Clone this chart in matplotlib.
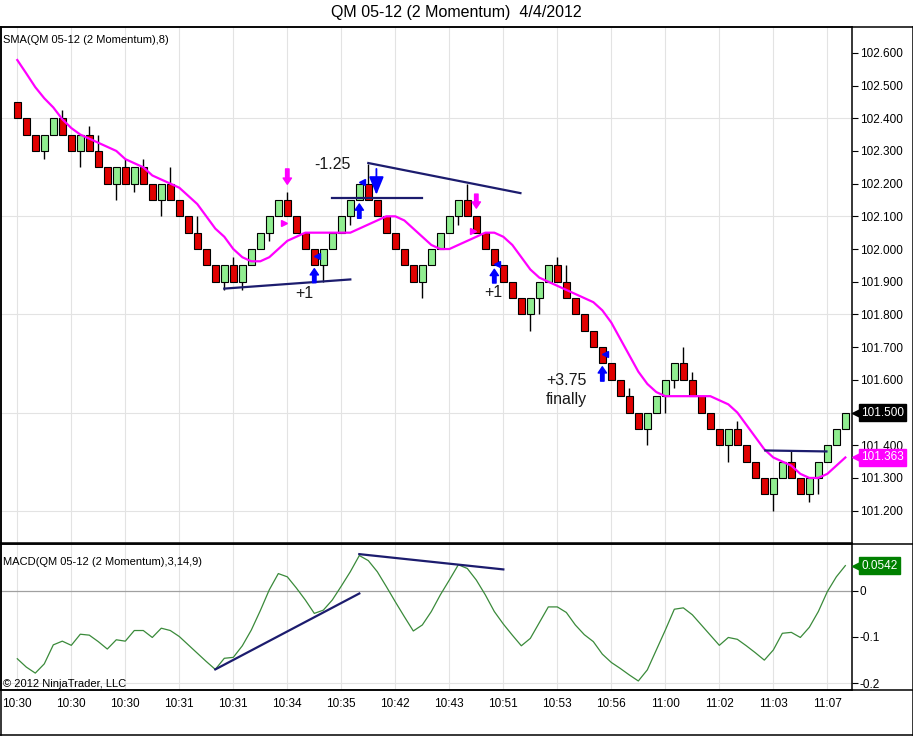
import matplotlib
matplotlib.use('Agg')
import matplotlib.pyplot as plt
import matplotlib.transforms as mtransforms
from matplotlib.lines import Line2D
import numpy as np

plt.rcParams['font.family'] = ['Liberation Sans', 'DejaVu Sans']

# --- data --------------------------------------------------------------------
first_open = 102.45
closes = [102.40, 102.35, 102.30, 102.35, 102.40, 102.35, 102.30, 102.35, 102.30, 102.25,
          102.20, 102.25, 102.20, 102.25, 102.20, 102.15, 102.20, 102.15, 102.10, 102.05,
          102.00, 101.95, 101.90, 101.95, 101.90, 101.95, 102.00, 102.05, 102.10, 102.15,
          102.10, 102.05, 102.00, 101.95, 102.00, 102.05, 102.10, 102.15, 102.20, 102.15,
          102.10, 102.05, 102.00, 101.95, 101.90, 101.95, 102.00, 102.05, 102.10, 102.15,
          102.10, 102.05, 102.00, 101.95, 101.90, 101.85, 101.80, 101.85, 101.90, 101.95,
          101.90, 101.85, 101.80, 101.75, 101.70, 101.65, 101.60, 101.55, 101.50, 101.45,
          101.50, 101.55, 101.60, 101.65, 101.60, 101.55, 101.50, 101.45, 101.40, 101.45,
          101.40, 101.35, 101.30, 101.25, 101.30, 101.35, 101.30, 101.25, 101.30, 101.35,
          101.40, 101.45, 101.50]

# wick ends that stick out of the body (bar index -> price)
upper_wicks = {5: 102.425, 8: 102.375, 9: 102.35, 12: 102.275, 14: 102.275, 17: 102.25,
               20: 102.10, 24: 101.975, 30: 102.175, 39: 102.26, 50: 102.20, 60: 101.975,
               61: 101.95, 68: 101.575, 74: 101.70, 75: 101.625, 80: 101.475, 86: 101.385}
lower_wicks = {3: 102.275, 7: 102.25, 11: 102.15, 13: 102.175, 16: 102.10, 23: 101.875,
               25: 101.875, 28: 102.025, 34: 101.90, 37: 102.075, 45: 101.85, 49: 102.075,
               57: 101.75, 58: 101.80, 70: 101.40, 72: 101.50, 73: 101.575, 79: 101.35,
               84: 101.20, 88: 101.225, 89: 101.25}

sma = [102.578, 102.537, 102.495, 102.461, 102.433, 102.397, 102.370, 102.35, 102.3375, 102.325,
       102.3125, 102.30, 102.275, 102.2625, 102.25, 102.225, 102.2125, 102.20, 102.1875, 102.1625,
       102.1375, 102.10, 102.0625, 102.0375, 102.00, 101.975, 101.9625, 101.9625, 101.975, 102.00,
       102.025, 102.0375, 102.05, 102.05, 102.05, 102.05, 102.05, 102.05, 102.0625, 102.075,
       102.0875, 102.10, 102.10, 102.0875, 102.0625, 102.0375, 102.0125, 102.00, 102.00, 102.0125,
       102.025, 102.0375, 102.05, 102.05, 102.0375, 102.0125, 101.975, 101.9375, 101.9125, 101.90,
       101.8875, 101.875, 101.8625, 101.85, 101.8375, 101.8125, 101.775, 101.725, 101.675, 101.625,
       101.5875, 101.5625, 101.55, 101.55, 101.55, 101.55, 101.55, 101.55, 101.5375, 101.525,
       101.50, 101.4625, 101.425, 101.3875, 101.3625, 101.35, 101.3375, 101.3125, 101.30, 101.30,
       101.3125, 101.3375, 101.3625]

macd = [-0.147, -0.165, -0.178, -0.158, -0.117, -0.109, -0.118, -0.094, -0.096, -0.110,
        -0.126, -0.106, -0.109, -0.086, -0.086, -0.101, -0.081, -0.086, -0.099, -0.117,
        -0.135, -0.153, -0.170, -0.146, -0.144, -0.119, -0.085, -0.043, 0.002, 0.037,
        0.030, 0.006, -0.020, -0.049, -0.042, -0.020, 0.010, 0.041, 0.076, 0.065,
        0.041, 0.009, -0.024, -0.056, -0.087, -0.074, -0.045, -0.009, 0.023, 0.056,
        0.048, 0.023, -0.009, -0.045, -0.072, -0.096, -0.119, -0.103, -0.069, -0.035,
        -0.035, -0.047, -0.074, -0.095, -0.110, -0.137, -0.155, -0.168, -0.182, -0.195,
        -0.171, -0.128, -0.085, -0.040, -0.037, -0.052, -0.074, -0.096, -0.118, -0.101,
        -0.105, -0.119, -0.134, -0.150, -0.128, -0.092, -0.090, -0.101, -0.079, -0.045,
        -0.002, 0.030, 0.0542]

time_labels = ['10:30', '10:30', '10:30', '10:31', '10:31', '10:34', '10:35', '10:42',
               '10:43', '10:51', '10:53', '10:56', '11:00', '11:02', '11:03', '11:07']
time_label_bars = [0, 6, 12, 18, 24, 30, 36, 42, 48, 54, 60, 66, 72, 78, 84, 90]

price_ticks = [101.2, 101.3, 101.4, 101.5, 101.6, 101.7, 101.8, 101.9,
               102.0, 102.1, 102.2, 102.3, 102.4, 102.5, 102.6]
price_grid = [101.2, 101.5, 101.8, 102.1, 102.4]
macd_ticks = [-0.2, -0.1, 0.0]
macd_tick_labels = ['-0.2', '-0.1', '0']

# last-value flags as printed on the axis
flag_texts = ['101.500', '101.363', '0.0542']

# hand-drawn trend lines: (bar, price) -> (bar, price)
price_lines = [((23, 101.879), (37, 101.907)),
               ((39, 102.263), (55.9, 102.171)),
               ((35, 102.156), (45, 102.156)),
               ((83.1, 101.384), (89.9, 101.381))]
macd_lines = [((22, -0.170), (38, -0.006)),
              ((38, 0.079), (54, 0.046))]

# trade markers: (bar, tail price, tip price, colour)
arrows = [(30, 102.245, 102.198, '#ff00ff'),
          (51, 102.168, 102.125, '#ff00ff'),
          (33, 101.897, 101.940, '#0000ff'),
          (38, 102.094, 102.138, '#0000ff'),
          (53, 101.896, 101.938, '#0000ff'),
          (65, 101.596, 101.640, '#0000ff')]
right_marks = [(29.65, 102.080), (50.6, 102.056)]
left_marks = [(33.35, 101.978), (38.35, 102.205), (53.35, 101.955), (65.35, 101.680)]

notes = [(35.0, 102.258, '-1.25'), (31.9, 101.864, '+1'), (52.9, 101.868, '+1'),
         (61.0, 101.597, '+3.75'), (61.0, 101.539, 'finally')]

# --- figure -----------------------------------------------------------------
W, H = 913, 736
fig = plt.figure(figsize=(W / 100, H / 100), dpi=100)
fig.patch.set_facecolor('white')


def fx(px):
    return px / W


def fy(py):
    return 1 - py / H


ax = fig.add_axes([fx(1), fy(543), fx(852) - fx(1), fy(27) - fy(543)])
ax2 = fig.add_axes([fx(1), fy(690), fx(852) - fx(1), fy(544) - fy(690)], sharex=ax)

n = len(closes)
idx = np.arange(n)
opens = np.array([first_open] + closes[:-1])
cl = np.array(closes)
highs = np.array([upper_wicks.get(i, max(opens[i], cl[i])) for i in range(n)])
lows = np.array([lower_wicks.get(i, min(opens[i], cl[i])) for i in range(n)])
up = cl > opens
colors = np.where(up, '#90ee90', '#e00000')

for a in (ax, ax2):
    for b in time_label_bars:
        a.axvline(b, color='#e3e3e3', lw=0.8, zorder=0)

for g in price_grid:
    ax.axhline(g, color='#e3e3e3', lw=0.8, zorder=0)

ax.vlines(idx, lows, highs, color='black', lw=1.0, zorder=2)
ax.bar(idx, cl - opens, bottom=opens, width=0.78, color=colors,
       edgecolor='black', linewidth=0.8, zorder=3)
ax.plot(idx, sma, color='#ff00ff', lw=1.6, zorder=4)

for (x0, y0), (x1, y1) in price_lines:
    ax.plot([x0, x1], [y0, y1], color='#1c1c6e', lw=1.6, zorder=5)

for b, tail, tip, c in arrows:
    ax.annotate('', xy=(b, tip), xytext=(b, tail),
                arrowprops=dict(arrowstyle='simple,head_width=0.6,head_length=0.45,tail_width=0.25',
                                color=c, shrinkA=0, shrinkB=0, mutation_scale=10), zorder=6)
# big sell arrow
ax.annotate('', xy=(39.9, 102.166), xytext=(39.9, 102.245),
            arrowprops=dict(arrowstyle='-|>,head_width=0.45,head_length=1.1', color='#0000ff',
                            lw=1.3, shrinkA=0, shrinkB=0, mutation_scale=10), zorder=6)
for b, p in right_marks:
    ax.plot(b, p, marker='>', color='#ff00ff', markersize=5, zorder=6)
for b, p in left_marks:
    ax.plot(b, p, marker='<', color='#0000ff', markersize=5, zorder=6)

for b, p, t in notes:
    ax.text(b, p, t, fontsize=11.5, ha='center', va='center', color='#1a1a1a', zorder=7)

ax.set_xlim(-1.81, 92.74)
ax.set_ylim(101.101, 102.679)
ax.yaxis.tick_right()
ax.set_yticks(price_ticks)
ax.set_yticklabels(['%.3f' % t for t in price_ticks])
ax.tick_params(axis='y', direction='out', length=4, width=0.8, labelsize=8.5, pad=1.5)
ax.tick_params(axis='x', length=0, labelbottom=False)

# MACD panel
ax2.axhline(0, color='#a0a0a0', lw=0.9, zorder=1)
ax2.axhline(-0.2, color='#e3e3e3', lw=0.8, zorder=0)
ax2.plot(idx, macd, color='#3a8a3a', lw=0.9, zorder=3)
for (x0, y0), (x1, y1) in macd_lines:
    ax2.plot([x0, x1], [y0, y1], color='#1c1c6e', lw=1.6, zorder=5)
ax2.set_ylim(-0.2145, 0.1009)
ax2.yaxis.tick_right()
ax2.set_yticks(macd_ticks)
ax2.set_yticklabels(macd_tick_labels)
ax2.tick_params(axis='y', direction='out', length=4, width=0.8, labelsize=8.5, pad=1.5)
ax2.set_xticks(time_label_bars)
ax2.set_xticklabels(time_labels)
ax2.tick_params(axis='x', length=0, labelsize=8.5, pad=6)

for a in (ax, ax2):
    for s in a.spines.values():
        s.set_linewidth(1.1)
        s.set_color('black')

# outer frame lines stretching to the right edge
for yy in (27, 543.5, 690, 735):
    fig.add_artist(Line2D([0, 1], [fy(yy), fy(yy)], transform=fig.transFigure,
                          color='black', lw=1.1))
fig.add_artist(Line2D([fx(0.5), fx(0.5)], [fy(27), fy(735)], transform=fig.transFigure,
                      color='black', lw=1.1))
fig.add_artist(Line2D([fx(912.5), fx(912.5)], [fy(27), fy(735)], transform=fig.transFigure,
                      color='black', lw=1.1))

# current value flags on the right axis
flags = [(ax, cl[-1], flag_texts[0], 'black'),
         (ax, sma[-1], flag_texts[1], '#ff00ff'),
         (ax2, macd[-1], flag_texts[2], '#008000')]
for a, v, t, c in flags:
    tr = mtransforms.blended_transform_factory(a.transAxes, a.transData)
    a.text(1.0 + 9 / 851, v, t, transform=tr, fontsize=8.5, color='white', ha='left',
           va='center', clip_on=False, zorder=10,
           bbox=dict(boxstyle='square,pad=0.2', facecolor=c, edgecolor=c))
    a.plot([1.0 + 5.5 / 851], [v], marker='<', markersize=8, color=c, transform=tr,
           clip_on=False, zorder=9)

fig.text(0.5, fy(13), 'QM 05-12 (2 Momentum)  4/4/2012', ha='center', va='center',
         fontsize=11.5, family=['Liberation Sans Narrow', 'Liberation Sans'])
fig.text(fx(3), fy(40), 'SMA(QM 05-12 (2 Momentum),8)', ha='left', va='center',
         fontsize=8, family=['Liberation Sans Narrow', 'Liberation Sans'])
fig.text(fx(3), fy(562), 'MACD(QM 05-12 (2 Momentum),3,14,9)', ha='left', va='center',
         fontsize=8)
fig.text(fx(3), fy(684), '\u00a9 2012 NinjaTrader, LLC', ha='left', va='center',
         fontsize=8)

fig.savefig('out.png', dpi=100, facecolor='white')
